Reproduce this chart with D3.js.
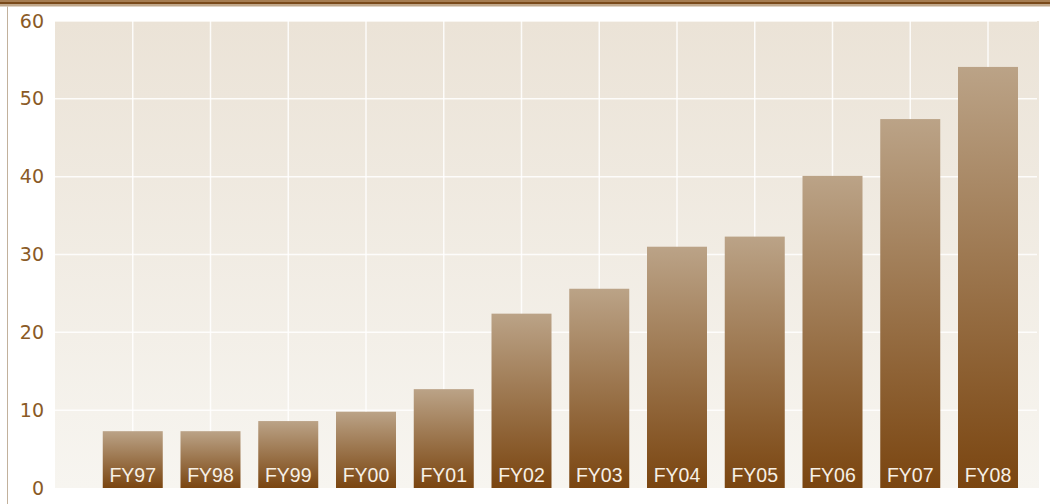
<!DOCTYPE html>
<html>
<head>
<meta charset="utf-8">
<script src="https://cdn.jsdelivr.net/npm/d3@7"></script>
<style>
  html, body { margin: 0; padding: 0; background: #ffffff; }
  svg { display: block; }
  text { font-family: "DejaVu Sans", Verdana, sans-serif; }
</style>
</head>
<body>
<svg id="chart"></svg>
<script>
"use strict";

// Chart data
const years = ["FY97", "FY98", "FY99", "FY00", "FY01", "FY02", "FY03", "FY04", "FY05", "FY06", "FY07", "FY08"];
const values = [7.3, 7.3, 8.6, 9.8, 12.7, 22.4, 25.6, 31.0, 32.3, 40.1, 47.4, 54.1];
const yTicks = [0, 10, 20, 30, 40, 50, 60];

const width = 1050;
const height = 504;
const plot = { left: 55, right: 1039, top: 21, bottom: 488 };

const svg = d3.select('#chart')
    .attr('width', width)
    .attr('height', height);

const defs = svg.append('defs');

// plot background gradient
const bgGrad = defs.append('linearGradient')
    .attr('id', 'bgGrad')
    .attr('x1', 0).attr('y1', 0).attr('x2', 0).attr('y2', 1);
bgGrad.append('stop').attr('offset', '0%').attr('stop-color', '#ebe3d7');
bgGrad.append('stop').attr('offset', '100%').attr('stop-color', '#f7f5f0');

// bar gradient, light tan on top to dark brown at the base
const barGrad = defs.append('linearGradient')
    .attr('id', 'barGrad')
    .attr('x1', 0).attr('y1', 0).attr('x2', 0).attr('y2', 1);
barGrad.append('stop').attr('offset', '0%').attr('stop-color', '#bba387');
barGrad.append('stop').attr('offset', '100%').attr('stop-color', '#7a4510');

// top border stripes
const stripes = [
    { y: 0, h: 2, c: '#a67d52' },
    { y: 2, h: 2, c: '#7a4a1b' },
    { y: 4, h: 2.5, c: '#c0a78b' }
];
svg.append('g').selectAll('rect')
    .data(stripes)
    .enter().append('rect')
    .attr('x', 0)
    .attr('y', d => d.y)
    .attr('width', width)
    .attr('height', d => d.h)
    .attr('fill', d => d.c);

// left border line
svg.append('line')
    .attr('x1', 7.5).attr('x2', 7.5)
    .attr('y1', 6.5).attr('y2', height)
    .attr('stroke', '#c2b19c')
    .attr('stroke-width', 1);

// Scales
const x = d3.scalePoint()
    .domain([''].concat(years))
    .range([plot.left, 988]);

const y = d3.scaleLinear()
    .domain([0, 60])
    .range([plot.bottom, plot.top]);

const barWidth = 60;

// plot background
svg.append('rect')
    .attr('x', plot.left)
    .attr('y', plot.top)
    .attr('width', plot.right - plot.left)
    .attr('height', plot.bottom - plot.top)
    .attr('fill', 'url(#bgGrad)');

// grid lines
const grid = svg.append('g')
    .attr('stroke', '#ffffff')
    .attr('stroke-opacity', 0.85)
    .attr('stroke-width', 1.5);

grid.selectAll('line.h')
    .data(yTicks.filter(d => d > 0))
    .enter().append('line')
    .attr('class', 'h')
    .attr('x1', plot.left)
    .attr('x2', plot.right - 2)
    .attr('y1', d => y(d))
    .attr('y2', d => y(d));

grid.selectAll('line.v')
    .data(years)
    .enter().append('line')
    .attr('class', 'v')
    .attr('x1', d => x(d))
    .attr('x2', d => x(d))
    .attr('y1', plot.top)
    .attr('y2', plot.bottom);

// y axis labels
const yAxis = d3.axisLeft(y)
    .tickValues(yTicks)
    .tickSize(0)
    .tickPadding(0)
    .tickFormat(d3.format('d'));

const yAxisG = svg.append('g')
    .attr('transform', 'translate(44,0)')
    .call(yAxis);
yAxisG.select('.domain').remove();
yAxisG.selectAll('text')
    .attr('fill', '#8a5a26')
    .style('font-size', '19px')
    .style('font-family', '"DejaVu Sans", Verdana, sans-serif');

// bars
const data = years.map((yr, i) => ({ year: yr, value: values[i] }));

svg.append('g').selectAll('rect')
    .data(data)
    .enter().append('rect')
    .attr('x', d => x(d.year) - barWidth / 2)
    .attr('y', d => y(d.value))
    .attr('width', barWidth)
    .attr('height', d => y(0) - y(d.value))
    .attr('fill', 'url(#barGrad)');

// category labels inside bars
svg.append('g').selectAll('text')
    .data(data)
    .enter().append('text')
    .attr('x', d => x(d.year))
    .attr('y', plot.bottom - 6)
    .attr('text-anchor', 'middle')
    .attr('fill', '#f7f0e6')
    .style('font-family', '"Liberation Sans", Arial, sans-serif')
    .style('font-size', '19.5px')
    .text(d => d.year);
</script>
</body>
</html>
